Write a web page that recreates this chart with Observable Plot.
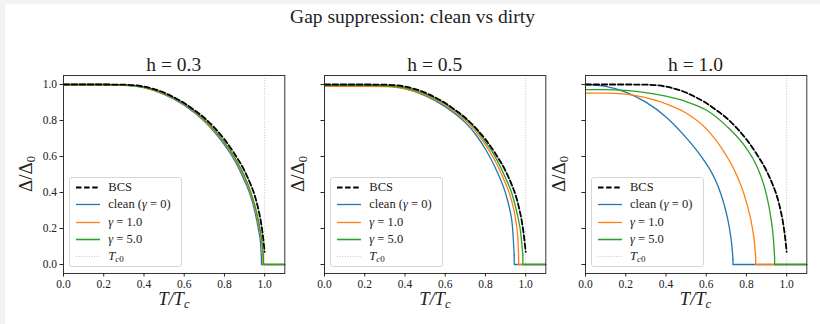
<!DOCTYPE html>
<html><head><meta charset="utf-8">
<script src="https://cdn.jsdelivr.net/npm/d3@7"></script>
<script src="https://cdn.jsdelivr.net/npm/@observablehq/plot@0.6"></script>
<style>
body{margin:0;width:820px;height:324px;background:#f3f3f3;overflow:hidden;font-family:"Liberation Serif",serif;color:#222;position:relative;}
#fig{position:absolute;left:5px;top:4px;width:815px;height:320px;background:#fff;}
.abs{position:absolute;white-space:nowrap;}
.title{font-size:19.5px;left:8px;width:815px;top:6px;text-align:center;font-family:"Liberation Serif",serif;}
.ptitle{font-size:19.5px;text-align:center;width:221px;top:54px;}
.xlab{font-size:18.5px;text-align:center;width:221px;top:289px;font-style:italic;}
.xlab sub{font-size:12.5px;vertical-align:-3px;}
.ylab{font-size:19px;transform:rotate(-90deg);transform-origin:center;width:80px;text-align:center;top:162px;}
.ylab sub{font-size:12.5px;vertical-align:-3px;}
.leg{border:1px solid #d6d6d6;border-radius:3px;background:rgba(255,255,255,0.85);width:111px;height:88px;top:177px;}
.row{position:absolute;left:0;height:17px;font-size:12.5px;line-height:17px;}
.row svg{position:absolute;left:5px;top:3px;}
.row span{position:absolute;left:38px;top:0;}
.row sub{font-size:9px;vertical-align:-2px;}
svg text{font-family:"Liberation Serif",serif !important;font-size:11.5px;}
</style></head><body>
<div id="fig"></div>
<script>
// ---- data ----
const xTicks = [0, 0.2, 0.4, 0.6, 0.8, 1.0];
const yTicks = [0, 0.2, 0.4, 0.6, 0.8, 1.0];
const panelTitles = ["h = 0.3", "h = 0.5", "h = 1.0"];
const Tc0 = [1.0];
const xMax = 1.1;

const bcs = [[0,1.0],[0.1,1.0],[0.2,1.0],[0.3,0.999],[0.4,0.988],[0.5,0.955],[0.55,0.928],[0.6,0.897],[0.65,0.858],[0.7,0.815],[0.75,0.76],[0.8,0.695],[0.85,0.615],[0.9,0.52],[0.93,0.445],[0.95,0.385],[0.97,0.3],[0.98,0.245],[0.99,0.17],[1.0,0.07]];

// gap curves up to their own critical temperature (then Δ = 0 up to xMax)
const h03_clean = [[0,1.0],[0.2,1.0],[0.3,0.997],[0.4,0.983],[0.5,0.945],[0.6,0.885],[0.7,0.795],[0.75,0.735],[0.8,0.665],[0.85,0.58],[0.9,0.465],[0.93,0.38],[0.95,0.3],[0.97,0.19],[0.98,0.11],[0.984,0.03]];
const h03_g1 = [[0,0.997],[0.2,0.997],[0.3,0.995],[0.4,0.983],[0.5,0.948],[0.6,0.89],[0.7,0.8],[0.75,0.742],[0.8,0.675],[0.85,0.59],[0.9,0.48],[0.93,0.395],[0.95,0.32],[0.97,0.22],[0.985,0.12],[0.991,0.03]];
const h03_g5 = [[0,1.0],[0.2,1.0],[0.3,0.997],[0.4,0.985],[0.5,0.951],[0.6,0.893],[0.7,0.805],[0.75,0.748],[0.8,0.68],[0.85,0.597],[0.9,0.49],[0.93,0.405],[0.95,0.335],[0.97,0.24],[0.985,0.14],[0.994,0.05]];

const h05_clean = [[0,0.998],[0.2,0.998],[0.3,0.994],[0.4,0.977],[0.5,0.938],[0.6,0.877],[0.7,0.788],[0.75,0.725],[0.8,0.64],[0.85,0.535],[0.9,0.395],[0.92,0.31],[0.935,0.2],[0.943,0.05]];
const h05_g1 = [[0,0.99],[0.2,0.99],[0.3,0.988],[0.4,0.976],[0.5,0.942],[0.6,0.886],[0.7,0.8],[0.75,0.742],[0.8,0.665],[0.85,0.572],[0.9,0.45],[0.93,0.355],[0.95,0.25],[0.962,0.13],[0.965,0.04]];
const h05_g5 = [[0,0.995],[0.2,0.995],[0.3,0.993],[0.4,0.982],[0.5,0.948],[0.6,0.893],[0.7,0.81],[0.75,0.755],[0.8,0.68],[0.85,0.595],[0.9,0.48],[0.93,0.4],[0.96,0.27],[0.975,0.18],[0.986,0.05]];

const h10_clean = [[0,1.0],[0.1,0.99],[0.2,0.958],[0.3,0.902],[0.4,0.82],[0.5,0.705],[0.55,0.638],[0.6,0.56],[0.63,0.505],[0.66,0.432],[0.69,0.33],[0.71,0.235],[0.72,0.17],[0.728,0.1],[0.733,0.03]];
const h10_g1 = [[0,0.952],[0.1,0.952],[0.2,0.946],[0.3,0.927],[0.4,0.893],[0.5,0.842],[0.6,0.755],[0.7,0.605],[0.75,0.5],[0.8,0.345],[0.83,0.2],[0.84,0.12],[0.846,0.04]];
const h10_g5 = [[0,0.972],[0.1,0.972],[0.2,0.967],[0.3,0.955],[0.4,0.935],[0.5,0.905],[0.6,0.858],[0.7,0.77],[0.8,0.645],[0.85,0.55],[0.9,0.385],[0.92,0.27],[0.935,0.13],[0.94,0.04]];

const panels = [
  {clean: h03_clean, g1: h03_g1, g5: h03_g5},
  {clean: h05_clean, g1: h05_g1, g5: h05_g5},
  {clean: h10_clean, g1: h10_g1, g5: h10_g5}
];

const C = {clean:"#1f77b4", g1:"#ff7f0e", g5:"#2ca02c", bcs:"#000", tc:"#c0c0c0"};

// ---- layout ----
const frameLeft = [63.3, 324.3, 585];
const frameTop = 75.3, fw = 221.3, fh = 198;
const mL = 45, mR = 8, mT = 8, mB = 28;

function add(html, cls, left, top) {
  const d = document.createElement("div");
  d.className = "abs " + cls;
  d.innerHTML = html;
  d.style.left = left + "px";
  if (top != null) d.style.top = top + "px";
  document.body.appendChild(d);
  return d;
}

add("Gap suppression: clean vs dirty", "title", 5);

const tail = s => { const e = s[s.length - 1]; return [e, [e[0], 0], [xMax, 0]]; };

panels.forEach((p, i) => {
  const X = d => d[0], Y = d => d[1];
  const curveMarks = ["clean", "g1", "g5"].flatMap(k => [
    Plot.line(p[k], {x: X, y: Y, stroke: C[k], strokeWidth: 1.3, curve: "monotone-x"}),
    Plot.line(tail(p[k]), {x: X, y: Y, stroke: C[k], strokeWidth: 1.3})
  ]);
  const svg = Plot.plot({
    width: fw + mL + mR, height: fh + mT + mB,
    marginLeft: mL, marginRight: mR, marginTop: mT, marginBottom: mB,
    x: {domain: [0, xMax]},
    y: {domain: [-0.05, 1.05]},
    style: {background: "transparent", fontFamily: "Liberation Serif", fontSize: "11.5px", color: "#222", overflow: "visible"},
    marks: [
      Plot.ruleX(Tc0, {stroke: C.tc, strokeWidth: 0.9, strokeDasharray: "1,1.6"}),
      ...curveMarks,
      Plot.line(bcs, {x: X, y: Y, stroke: C.bcs, strokeWidth: 1.8, strokeDasharray: "5.5,2.6", curve: "monotone-x"}),
      Plot.frame({stroke: "#333", strokeWidth: 1}),
      Plot.axisX({ticks: xTicks, tickFormat: d3.format(".1f"), tickSize: 3.5, tickPadding: 3, label: null}),
      Plot.axisY({ticks: yTicks, tickFormat: i === 0 ? d3.format(".1f") : () => "", tickSize: 3.5, tickPadding: 3, label: null})
    ]
  });
  svg.style.position = "absolute";
  svg.style.left = (frameLeft[i] - mL) + "px";
  svg.style.top = (frameTop - mT) + "px";
  document.body.appendChild(svg);

  const L = frameLeft[i];
  add(panelTitles[i], "ptitle", L);
  add("T/T<sub>c</sub>", "xlab", L);
  add("Δ/Δ<sub>0</sub>", "ylab", (i === 0 ? L - 36 : L - 25) - 40);

  const leg = add("", "leg", L + 6, 177);
  const items = [
    {html: "BCS", stroke: C.bcs, w: 1.8, dash: "5.5,2.6"},
    {html: "clean (<i>γ</i> = 0)", stroke: C.clean, w: 1.3},
    {html: "<i>γ</i> = 1.0", stroke: C.g1, w: 1.3},
    {html: "<i>γ</i> = 5.0", stroke: C.g5, w: 1.6},
    {html: "<i>T</i><sub><i>c</i>0</sub>", stroke: C.tc, w: 0.9, dash: "1,1.6"}
  ];
  items.forEach((it, k) => {
    const r = document.createElement("div");
    r.className = "row";
    r.style.top = (1 + k * 17.3) + "px";
    r.innerHTML = `<svg width="26" height="11"><line x1="1" x2="25" y1="5.5" y2="5.5" stroke="${it.stroke}" stroke-width="${it.w}" ${it.dash ? `stroke-dasharray="${it.dash}"` : ""}/></svg><span>${it.html}</span>`;
    leg.appendChild(r);
  });
});
</script>
</body></html>
